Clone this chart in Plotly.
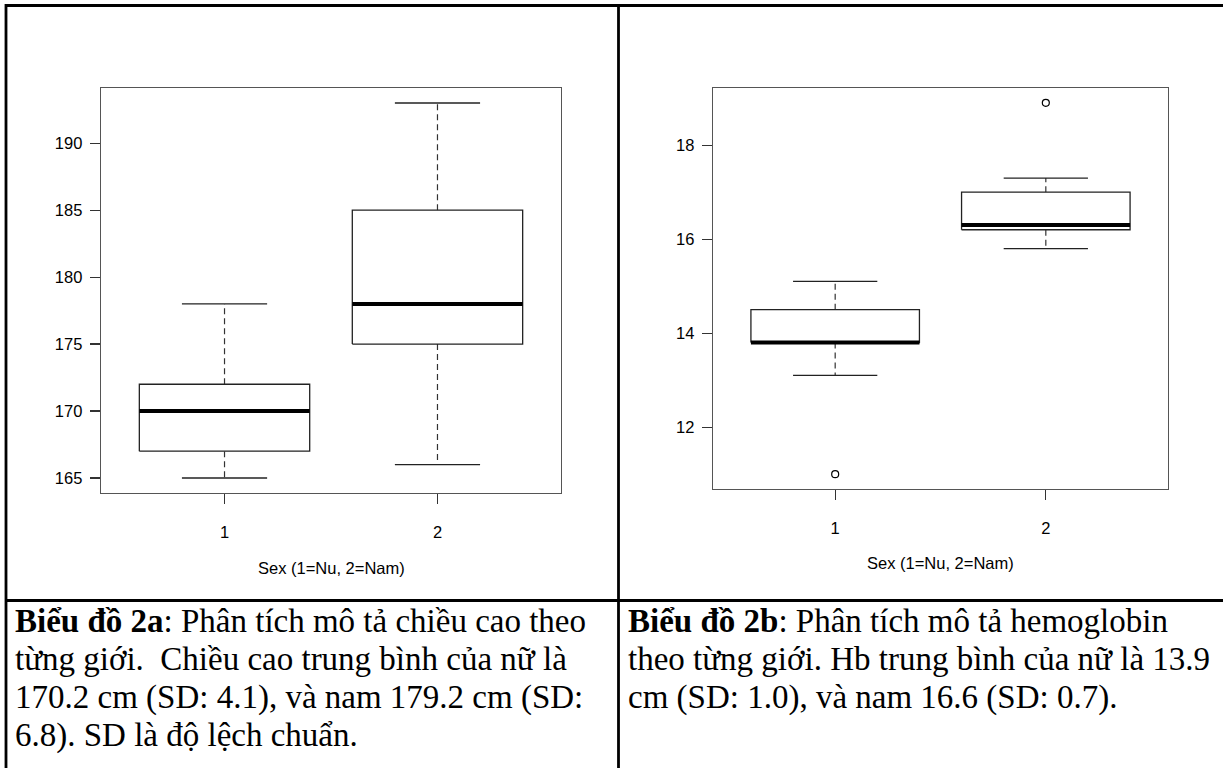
import plotly.graph_objects as go

# ---------------- data ----------------
categories = ["1", "2"]

# Chart 2a: height (cm) by sex
height_low = [165, 166]
height_q1 = [167, 175]
height_median = [170, 178]
height_q3 = [172, 185]
height_high = [178, 193]
height_outliers = [[], []]
height_ticks = [165, 170, 175, 180, 185, 190]

# Chart 2b: hemoglobin by sex
hb_low = [13.1, 15.8]
hb_q1 = [13.8, 16.2]
hb_median = [13.8, 16.3]
hb_q3 = [14.5, 17.0]
hb_high = [15.1, 17.3]
hb_outliers = [[11.0], [18.9]]
hb_ticks = [12, 14, 16, 18]

x_title = "Sex (1=Nu, 2=Nam)"

caption_left = [
    "<b>Biểu đồ 2a</b>: Phân tích mô tả chiều cao theo",
    "từng giới.\u00a0 Chiều cao trung bình của nữ là",
    "170.2 cm (SD: 4.1), và nam 179.2 cm (SD:",
    "6.8). SD là độ lệch chuẩn.",
]
caption_right = [
    "<b>Biểu đồ 2b</b>: Phân tích mô tả hemoglobin",
    "theo từng giới. Hb trung bình của nữ là 13.9",
    "cm (SD: 1.0), và nam 16.6 (SD: 0.7).",
]

# ---------------- figure ----------------
W, H = 1223, 768
fig = go.Figure()

BOX_HALF = 0.4
CAP_HALF = 0.2
LINE_COL = "#222222"


def add_boxes(low, q1, med, q3, high, outs, xa, ya):
    xs = [i + 1 for i in range(len(categories))]
    for i, x in enumerate(xs):
        common = dict(xaxis=xa, yaxis=ya, showlegend=False, hoverinfo="skip")
        # dashed whiskers
        fig.add_trace(go.Scatter(x=[x, x, None, x, x],
                                 y=[q3[i], high[i], None, q1[i], low[i]],
                                 mode="lines",
                                 line=dict(color="#333333", width=1.2, dash="6px,4px"),
                                 **common))
        # caps
        fig.add_trace(go.Scatter(x=[x - CAP_HALF, x + CAP_HALF, None, x - CAP_HALF, x + CAP_HALF],
                                 y=[high[i], high[i], None, low[i], low[i]],
                                 mode="lines", line=dict(color=LINE_COL, width=1.3),
                                 **common))
        # box
        fig.add_trace(go.Scatter(x=[x - BOX_HALF, x + BOX_HALF, x + BOX_HALF, x - BOX_HALF, x - BOX_HALF],
                                 y=[q1[i], q1[i], q3[i], q3[i], q1[i]],
                                 mode="lines", line=dict(color=LINE_COL, width=1.3),
                                 fill="toself", fillcolor="white",
                                 **common))
        # median
        fig.add_trace(go.Scatter(x=[x - BOX_HALF, x + BOX_HALF], y=[med[i], med[i]],
                                 mode="lines", line=dict(color="black", width=4),
                                 **common))
        # outliers
        if outs[i]:
            fig.add_trace(go.Scatter(x=[x] * len(outs[i]), y=outs[i], mode="markers",
                                     marker=dict(symbol="circle-open", size=7,
                                                 color="black", line=dict(width=1.2)),
                                     **common))


add_boxes(height_low, height_q1, height_median, height_q3, height_high, height_outliers, "x", "y")
add_boxes(hb_low, hb_q1, hb_median, hb_q3, hb_high, hb_outliers, "x2", "y2")


def yrange(vals_lists):
    flat = [v for lst in vals_lists for sub in lst for v in (sub if isinstance(sub, list) else [sub])]
    lo, hi = min(flat), max(flat)
    pad = (hi - lo) * 0.04
    return [lo - pad, hi + pad]


r1 = yrange([height_low, height_high, height_outliers])
r2 = yrange([hb_low, hb_high, hb_outliers])

tickfont = dict(family="Liberation Sans, Arial, sans-serif", size=16.5, color="black")
ax_common = dict(showline=True, mirror=True, linecolor="#555555", linewidth=1.3,
                 ticks="outside", ticklen=10, tickcolor="#333333", tickwidth=1.2,
                 showgrid=False, zeroline=False, tickfont=tickfont, fixedrange=True)

xax = dict(range=[0.42, 2.58], tickmode="array", tickvals=[1, 2], ticktext=categories,
           ticklabelstandoff=14, **ax_common)

fig.update_layout(
    width=W, height=H,
    margin=dict(l=0, r=0, t=0, b=0),
    paper_bgcolor="white", plot_bgcolor="white",
    xaxis=dict(domain=[101 / W, 561 / W], anchor="y", **xax),
    yaxis=dict(domain=[1 - 493 / H, 1 - 88 / H], anchor="x", range=r1,
               tickmode="array", tickvals=height_ticks, ticklabelstandoff=4, **ax_common),
    xaxis2=dict(domain=[713 / W, 1168 / W], anchor="y2", **xax),
    yaxis2=dict(domain=[1 - 489 / H, 1 - 88 / H], anchor="x2", range=r2,
                tickmode="array", tickvals=hb_ticks, ticklabelstandoff=4, **ax_common),
)

# axis titles
for cx, cy in [(331, 568), (940, 563)]:
    fig.add_annotation(xref="paper", yref="paper", x=cx / W, y=1 - cy / H,
                       text=x_title, showarrow=False, xanchor="center", yanchor="middle",
                       font=dict(family="Liberation Sans, Arial, sans-serif", size=16.5, color="black"))

# table borders
BW = 2.8
shapes = [
    (6, 5.5, W, 5.5),
    (6, 4, 6, H),
    (618.5, 4, 618.5, H),
    (6, 600.5, W, 600.5),
]
for x0, y0, x1, y1 in shapes:
    fig.add_shape(type="line", xref="paper", yref="paper",
                  x0=x0 / W, x1=x1 / W, y0=1 - y0 / H, y1=1 - y1 / H,
                  line=dict(color="black", width=BW))

# captions
cap_font = dict(family="Liberation Serif, Times New Roman, serif", size=33, color="black")
line_y = [621, 659, 697, 735]
for lines, x0 in [(caption_left, 14), (caption_right, 627)]:
    for j, txt in enumerate(lines):
        fig.add_annotation(xref="paper", yref="paper", x=x0 / W, y=1 - line_y[j] / H,
                           text=txt, showarrow=False, xanchor="left", yanchor="middle",
                           borderpad=0, font=cap_font)

fig.write_html("out.html",
               config={"displayModeBar": False, "staticPlot": True},
               post_script="document.body.style.margin='0px';document.body.style.overflow='hidden';")
